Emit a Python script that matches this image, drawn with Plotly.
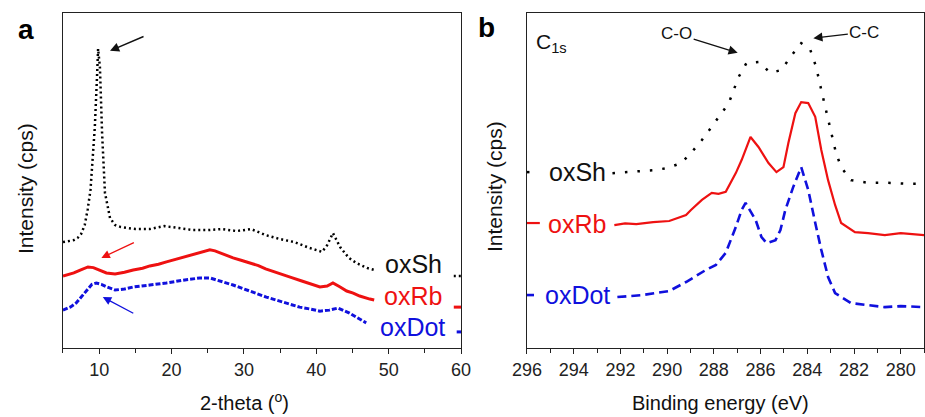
import plotly.graph_objects as go

# ---------------- Panel a: XRD ----------------
xrd_sh_x = [5.0, 6.0, 6.5, 7.0, 7.5, 8.0, 8.4, 8.8, 9.1, 9.4, 9.7, 9.85, 10.1, 10.4, 10.8, 11.1, 11.5,
            12.2, 13, 14, 15, 17, 19, 21, 23, 25, 27, 29, 31, 33, 35, 37, 39, 40.8, 41.5, 42.3, 43.3,
            44.5, 45.5, 47, 48, None, 59, 60]
xrd_sh_y = [31.6, 31.9, 32.2, 32.8, 34.0, 36.7, 41.2, 47.2, 56.1, 66.0, 80.9, 89.3, 83.9, 64.2, 46.3, 42.7, 38.8,
            36.7, 36.1, 35.8, 35.5, 35.5, 36.4, 35.8, 35.2, 35.2, 35.5, 34.9, 35.5, 33.7, 32.5, 31.6, 29.9, 28.7, 30.7, 34.3, 30.1,
            26.9, 25.4, 23.9, 23.3, None, 21.5, 21.5]

xrd_rb_x = [5, 5.8, 6.5, 7.3, 8.45, 9.2, 10, 11, 12.2, 13.5, 14.7, 16, 17, 18.2, 19.3, 20.5, 22, 23.5, 24.5, 25.3,
            26.0, 26.7, 27.6, 28.5, 29.6, 30.8, 32, 33, 34.2, 35.4, 36.6, 38, 39.2, 40.5, 41.5, 42.3, 43.3, 44.2,
            45.1, 46, 47.4, 48, None, 59, 60]
xrd_rb_y = [21.5, 21.9, 22.4, 23.2, 24.2, 24.0, 23.3, 22.4, 22.1, 22.6, 23.3, 23.8, 24.5, 25.0, 25.7, 26.4, 27.5, 28.3, 28.8, 29.3,
            29.0, 28.4, 27.8, 26.9, 26.2, 25.4, 24.6, 23.6, 22.8, 21.8, 21.0, 20.0, 19.2, 18.2, 18.5, 19.4, 18.2, 17.0,
            16.4, 15.5, 14.6, 14.3, None, 12.2, 12.2]

xrd_dot_x = [5, 6.0, 6.8, 7.6, 8.45, 9.0, 9.6, 10.3, 11.1, 12.2, 13.5, 14.7, 17, 19.3, 21.5, 23.9, 25.3, 26.8, 28.5,
             30.8, 33.1, 35.4, 37.7, 39.2, 40.5, 41.8, 43, 44.6, 45.8, 46.9, None, 59.4, 60]
xrd_dot_y = [11.3, 12.2, 13.4, 15.5, 17.9, 19.0, 19.4, 19.0, 18.2, 17.3, 17.6, 18.2, 18.8, 19.4, 20.2, 20.9, 20.9, 20.0, 18.8,
             17.0, 15.2, 13.7, 12.2, 11.6, 11.0, 11.3, 11.9, 10.4, 9.0, 7.5, None, 4.8, 4.8]

# ---------------- Panel b: XPS C1s ----------------
xps_sh_x = [296.0, 295.5, None, 292.34, 291.74, 290.55, 290.0, 289.40, 288.94, 288.51, 288.13, 287.79, 287.36,
            287.15, 286.94, 286.60, 286.09, 285.57, 285.11, 284.72, 284.26, 283.87, 283.62, 283.40, 283.19,
            282.98, 282.77, 282.55, 282.13, 281.40, 280.55, 279.70, 279.0]
xps_sh_y = [52.5, 52.5, None, 52.2, 52.5, 53.1, 53.7, 55.2, 58.5, 62.1, 65.7, 69.0, 73.1,
            77.0, 80.9, 85.1, 85.4, 82.1, 83.0, 86.9, 91.0, 89.0, 83.9, 77.0, 71.0,
            65.1, 58.2, 54.0, 50.1, 49.3, 49.3, 49.0, 49.0]

xps_rb_x = [296.0, 295.45, None, 292.26, 291.8, 291.32, 290.6, 289.91, 289.5, 289.19, 288.98, 288.51, 288.09, 287.8,
            287.49, 287.06, 286.81, 286.43, 286.09, 285.66, 285.32, 285.02, 284.81, 284.51, 284.26, 283.96,
            283.66, 283.40, 283.11, 282.81, 282.55, 281.96, 281.40, 280.68, 280.0, 279.0]
xps_rb_y = [37.3, 37.3, None, 36.7, 37.2, 37.0, 37.6, 37.9, 38.8, 39.7, 41.2, 44.2, 46.3, 46.0,
            46.6, 52.2, 56.1, 63.0, 60.0, 55.2, 52.5, 54.0, 61.2, 70.1, 73.4, 73.1,
            69.0, 59.1, 50.1, 42.7, 37.3, 34.6, 34.3, 33.7, 34.3, 33.7]

xps_dot_x = [296.0, 295.7, None, 292.13, 291.06, 289.91, 289.19, 288.34, 287.91, 287.49, 287.06, 286.81, 286.64,
             286.21, 285.96, 285.74, 285.36, 285.15, 284.94, 284.60, 284.26, 283.96, 283.83, 283.62, 283.40,
             283.11, 282.81, 282.13, 281.40, 280.68, 280.0, 279.0]
xps_dot_y = [15.8, 15.8, None, 15.2, 15.8, 17.0, 19.7, 23.3, 24.8, 28.4, 36.1, 41.2, 43.3,
             38.2, 33.1, 31.3, 32.2, 35.2, 41.2, 48.1, 54.0, 47.2, 43.3, 36.1, 29.3,
             21.2, 16.4, 13.4, 12.8, 12.2, 12.5, 12.2]

series_names = ["oxSh", "oxRb", "oxDot"]
FONT = "Liberation Sans, Arial, sans-serif"

fig = go.Figure()
fig.add_trace(go.Scatter(x=xrd_sh_x, y=xrd_sh_y, mode="lines", name="oxSh",
                         line=dict(color="black", width=2.5, dash="2px,3px"), xaxis="x", yaxis="y"))
fig.add_trace(go.Scatter(x=xrd_rb_x, y=xrd_rb_y, mode="lines", name="oxRb",
                         line=dict(color="#ee1111", width=3), xaxis="x", yaxis="y"))
fig.add_trace(go.Scatter(x=xrd_dot_x, y=xrd_dot_y, mode="lines", name="oxDot",
                         line=dict(color="#1010dd", width=3, dash="5px,2px"), xaxis="x", yaxis="y"))

fig.add_trace(go.Scatter(x=xps_sh_x, y=xps_sh_y, mode="lines", name="oxSh",
                         line=dict(color="black", width=2.5, dash="2.5px,10px"), xaxis="x2", yaxis="y2"))
fig.add_trace(go.Scatter(x=xps_rb_x, y=xps_rb_y, mode="lines", name="oxRb",
                         line=dict(color="#ee1111", width=2.2), xaxis="x2", yaxis="y2"))
fig.add_trace(go.Scatter(x=xps_dot_x, y=xps_dot_y, mode="lines", name="oxDot",
                         line=dict(color="#1010dd", width=2.6, dash="9px,5px"), xaxis="x2", yaxis="y2"))

ax_common = dict(showline=True, mirror=True, linecolor="#222", linewidth=1.3, showgrid=False,
                 zeroline=False)
xtick = dict(ticks="outside", ticklen=5, tickwidth=1.2, tickcolor="#222",
             tickfont=dict(family=FONT, size=18, color="#222"))

fig.update_layout(
    width=925, height=417,
    margin=dict(l=0, r=0, t=0, b=0, autoexpand=False),
    paper_bgcolor="white", plot_bgcolor="white",
    showlegend=False,
    xaxis=dict(domain=[0.0681, 0.4984], range=[5, 60], dtick=10, tick0=0,
               minor=dict(dtick=5, tick0=0, ticks="outside", ticklen=4, tickcolor="#222"),
               anchor="y", **ax_common, **xtick),
    yaxis=dict(domain=[0.1655, 0.9688], range=[0, 100], showticklabels=False, ticks="",
               anchor="x", **ax_common),
    xaxis2=dict(domain=[0.5697, 0.999], range=[296, 279], dtick=2, tick0=0,
                minor=dict(dtick=1, tick0=0, ticks="outside", ticklen=4, tickcolor="#222"),
                anchor="y2", **ax_common, **xtick),
    yaxis2=dict(domain=[0.1655, 0.9688], range=[0, 100], showticklabels=False, ticks="",
                anchor="x2", **ax_common),
)

ann = []
def txt(x, y, t, size, color="#111", bold=False, angle=0, xanchor="center"):
    ann.append(dict(x=x / 925, y=1 - y / 417, xref="paper", yref="paper", text=("<b>%s</b>" % t) if bold else t,
                    showarrow=False, font=dict(family=FONT, size=size, color=color),
                    textangle=angle, xanchor=xanchor, yanchor="middle"))

# panel letters
txt(26, 29, "a", 28, "#000", bold=True)
txt(487, 27, "b", 28, "#000", bold=True)
# axis titles
txt(25, 189, "Intensity (cps)", 21, angle=-90)
txt(494, 187, "Intensity (cps)", 21, angle=-90)
txt(244, 401, "2-theta (<sup>o</sup>)", 20)
txt(720, 403, "Binding energy (eV)", 20)
# series labels
colors = ["#111", "#ee1111", "#1010dd"]
for name, c, (x, y) in zip(series_names, colors, [(413, 264), (413, 296), (412, 327)]):
    txt(x, y, name, 25, c)
for name, c, (x, y) in zip(series_names, colors, [(577, 172), (577, 224), (577, 295)]):
    txt(x, y, name, 25, c)
# C1s label
txt(534, 43, "C<sub>1s</sub>", 21, "#111", xanchor="left")

# arrows (head positioned in data coordinates)
def arrow(xref, yref, x, y, ax, ay, color, width=1.3, text="", size=17):
    ann.append(dict(x=x, y=y, xref=xref, yref=yref, ax=ax, ay=ay, text=text, showarrow=True,
                    arrowhead=2, arrowsize=1.3, arrowwidth=width, arrowcolor=color,
                    font=dict(family=FONT, size=size, color="#111")))

arrow("x", "y", 11.5, 88.7, 35, -15, "#111", 1.4)
arrow("x", "y", 10.3, 26.9, 34, -16, "#ee1111", 1.3)
arrow("x", "y", 10.5, 15.2, 32, 17, "#1010dd", 1.3)
# peak labels with arrows (text sits at arrow tail)
arrow("x2", "y2", 286.98, 88.1, -61, -19, "#111", 1.4, text="C-O")
arrow("x2", "y2", 283.74, 92.5, 51, -6, "#111", 1.4, text="C-C")

fig.update_layout(annotations=ann)
fig.write_html("out.html")
